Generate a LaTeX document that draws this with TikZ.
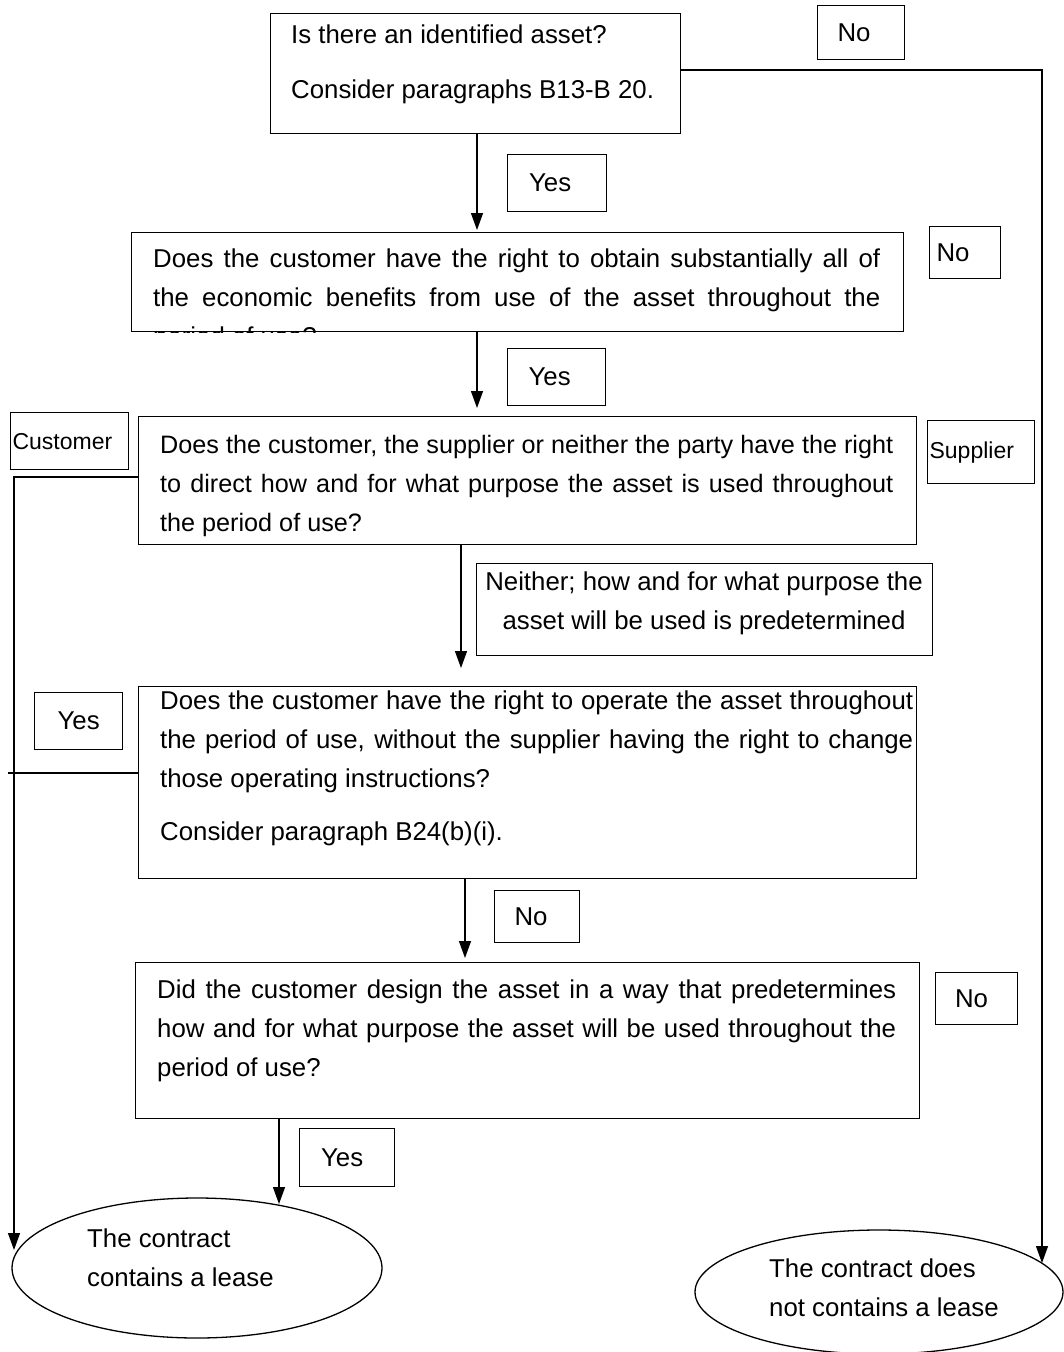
\documentclass[tikz,border=0pt]{standalone}
\usepackage{fontspec}
\setmainfont{Liberation Sans}
\usetikzlibrary{arrows.meta,shapes.geometric,calc}
\begin{document}
\begin{tikzpicture}[x=1pt,y=-1pt,
  box/.style={draw, line width=1.3pt, inner sep=0pt, anchor=north west},
  lbl/.style={draw, line width=1.2pt, inner sep=0pt, anchor=north west, font=\fontsize{25.8}{39}\selectfont},
  smlbl/.style={lbl, font=\fontsize{23}{30}\selectfont, align=left, inner xsep=2pt},
  txt/.style={inner sep=0pt, anchor=north west, align=left, font=\fontsize{25.8}{39}\selectfont},
  oval/.style={draw, ellipse, line width=1.3pt, inner sep=0pt},
  conn/.style={line width=1.3pt},
  arr/.style={conn, -{Triangle[length=17pt,width=12pt]}},
]
\useasboundingbox (0,0) rectangle (1063,1352);

% question 1
\node[box, minimum width=410pt, minimum height=120pt] (b1) at (270,13) {};
\node[txt] (t1) at (291,15.7) {\strut Is there an identified asset?\\[16pt]\strut Consider paragraphs B13-B 20.};
\node[lbl, minimum width=87pt, minimum height=54pt] (n1) at (817,5) {\hspace*{-14pt}No};
\node[lbl, minimum width=99pt, minimum height=57pt] (y1) at (507,154) {\hspace*{-14pt}Yes};

% question 2
\node[box, minimum width=772pt, minimum height=99pt] (b2) at (131,232) {};
\begin{scope}
\clip (b2.north west) rectangle (b2.south east);
\node[txt] (t2) at (153,239.7) {\makebox[727pt][s]{\strut Does the customer have the right to obtain substantially all of}\\\makebox[727pt][s]{\strut the economic benefits from use of the asset throughout the}\\\strut period of use?};
\end{scope}
\node[lbl, minimum width=71pt, minimum height=52pt] (n2) at (929,226) {\hspace*{-24pt}No};
\node[lbl, minimum width=98pt, minimum height=57pt] (y2) at (507,348) {\hspace*{-14pt}Yes};

% question 3
\node[box, minimum width=778pt, minimum height=128pt] (b3) at (138,416) {};
\node[txt, font=\fontsize{25.2}{39}\selectfont] (t3) at (160,425.7) {\makebox[733pt][s]{\strut Does the customer, the supplier or neither the party have the right}\\\makebox[733pt][s]{\strut to direct how and for what purpose the asset is used throughout}\\\strut the period of use?};
\node[smlbl, minimum width=118pt, minimum height=57pt, text width=114pt] (cu) at (10,412) {Customer};
\node[smlbl, minimum width=107pt, minimum height=63pt, text width=103pt] (su) at (927,420) {Supplier};
\node[lbl, minimum width=456pt, minimum height=92pt] (ne) at (476,563) {};
\node[txt, align=center, anchor=north] (tn) at (704,562.7) {\strut Neither; how and for what purpose the\\\strut asset will be used is predetermined};

% question 4
\node[box, minimum width=778pt, minimum height=192pt] (b4) at (138,686) {};
\node[txt] (t4) at (160,681.7) {\makebox[753pt][s]{\strut Does the customer have the right to operate the asset throughout}\\\makebox[753pt][s]{\strut the period of use, without the supplier having the right to change}\\\strut those operating instructions?\\[14pt]\strut Consider paragraph B24(b)(i).};
\node[lbl, minimum width=88pt, minimum height=57pt] (y3) at (34,692) {Yes};
\node[lbl, minimum width=85pt, minimum height=52pt] (n3) at (494,890) {\hspace*{-12pt}No};

% question 5
\node[box, minimum width=784pt, minimum height=156pt] (b5) at (135,962) {};
\node[txt] (t5) at (157,970.7) {\makebox[739pt][s]{\strut Did the customer design the asset in a way that predetermines}\\\makebox[739pt][s]{\strut how and for what purpose the asset will be used throughout the}\\\strut period of use?};
\node[lbl, minimum width=82pt, minimum height=52pt] (n4) at (935,972) {\hspace*{-10pt}No};
\node[lbl, minimum width=95pt, minimum height=58pt] (y4) at (299,1128) {\hspace*{-10pt}Yes};

% outcomes
\node[oval, minimum width=370pt, minimum height=140pt] (eL) at (197,1268) {};
\node[txt] (tL) at (87,1219.7) {\strut The contract\\\strut contains a lease};
\node[oval, minimum width=368pt, minimum height=124pt] (eR) at (879,1292) {};
\node[txt] (tR) at (769,1249.7) {\strut The contract does\\\strut not contains a lease};

% connectors
\coordinate (cR) at (1042,70);
\coordinate (cRe) at (1042,1263);
\draw[arr] (b1.east |- cR) -- (cR) -- (cRe);

\coordinate (cL) at (14,477);
\coordinate (cLe) at (14,1250);
\draw[arr] (b3.west |- cL) -- (cL) -- (cLe);

\coordinate (cY) at (8,773);
\draw[conn] (b4.west |- cY) -- (cY);

\coordinate (x1) at (477,0);
\draw[arr, shorten >=2pt] (b1.south -| x1) -- (b2.north -| x1);
\draw[arr, shorten >=8pt] (b2.south -| x1) -- (b3.north -| x1);
\coordinate (x3) at (461,0);
\draw[arr, shorten >=18pt] (b3.south -| x3) -- (b4.north -| x3);
\coordinate (x4) at (465,0);
\draw[arr, shorten >=4pt] (b4.south -| x4) -- (b5.north -| x4);
\coordinate (cE) at (279,1204);
\draw[arr] (b5.south -| cE) -- (cE);
\end{tikzpicture}
\end{document}
